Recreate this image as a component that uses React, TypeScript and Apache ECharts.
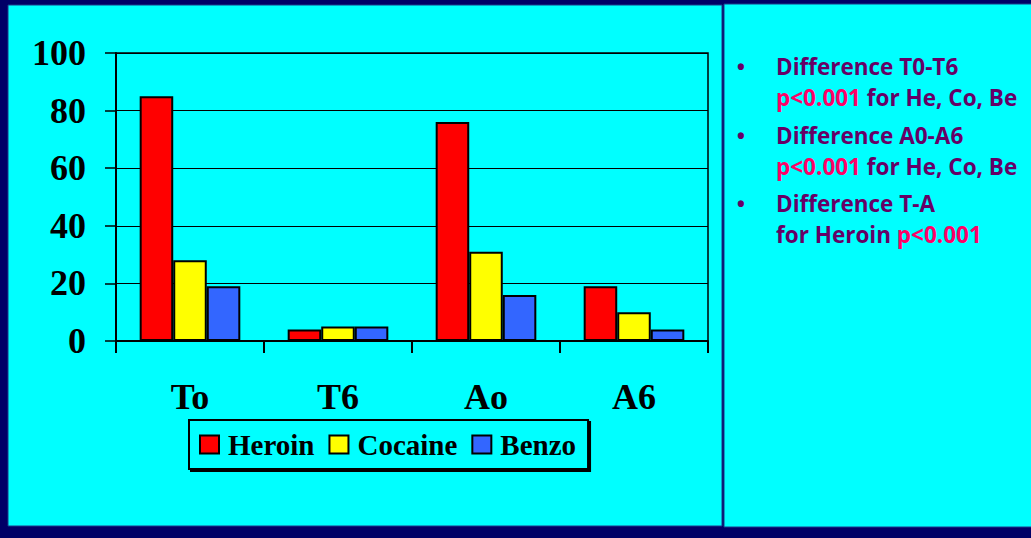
import React, { useEffect, useRef } from "react";
import * as echarts from "echarts";

const categories = ["To", "T6", "Ao", "A6"];
const heroin = [85, 4, 76, 19];
const cocaine = [28, 5, 31, 10];
const benzo = [19, 5, 16, 4];
const seriesNames = ["Heroin", "Cocaine", "Benzo"];
const seriesColors = ["#FF0000", "#FFFF00", "#3366FF"];
const notes: { bullet: boolean; parts: { t: string; pink?: boolean }[] }[] = [
  { bullet: true, parts: [{ t: "Difference T0-T6" }] },
  { bullet: false, parts: [{ t: "p<0.001", pink: true }, { t: " for He, Co, Be" }] },
  { bullet: true, parts: [{ t: "Difference A0-A6" }] },
  { bullet: false, parts: [{ t: "p<0.001", pink: true }, { t: " for He, Co, Be" }] },
  { bullet: true, parts: [{ t: "Difference T-A" }] },
  { bullet: false, parts: [{ t: "for Heroin " }, { t: "p<0.001", pink: true }] },
];
const noteY = [66, 97, 135, 166, 203, 234];

const serif = "'Liberation Serif', 'Times New Roman', serif";
const sans = "'Open Sans', Lato, sans-serif";
const noteFont = `bold 22.5px ${sans}`;

export default function App() {
  const ref = useRef<HTMLDivElement>(null);
  useEffect(() => {
    document.body.style.margin = "0";
    const chart = echarts.init(ref.current!, undefined, { renderer: "svg" });
    const graphics: any[] = [
      { type: "rect", z: -10, shape: { x: 8, y: 5, width: 714, height: 521 }, style: { fill: "#00FFFF", stroke: "#1a3a8a", lineWidth: 1 } },
      { type: "rect", z: -10, shape: { x: 724, y: 4, width: 310, height: 523 }, style: { fill: "#00FFFF", stroke: "#1a3a8a", lineWidth: 1 } },
    ];
    notes.forEach((n, i) => {
      if (n.bullet) {
        graphics.push({
          type: "text", x: 741, y: noteY[i], z: 10,
          style: { text: "•", fill: "#660066", font: `bold 22px ${sans}`, textAlign: "center", textVerticalAlign: "middle" },
        });
      }
      const txt = n.parts.map((p) => (p.pink ? `{p|${p.t}}` : `{d|${p.t}}`)).join("");
      graphics.push({
        type: "text", x: 776, y: noteY[i], z: 10,
        style: {
          text: txt, textVerticalAlign: "middle", textAlign: "left",
          font: noteFont, fill: "#660066",
          rich: {
            d: { fill: "#660066", font: noteFont },
            p: { fill: "#FF0066", font: noteFont },
          },
        },
      });
    });
    const data = [heroin, cocaine, benzo];
    chart.setOption({
      animation: false,
      backgroundColor: "#000066",
      graphic: graphics,
      grid: { left: 116, right: 323, top: 53, bottom: 197, show: true, borderColor: "#000", borderWidth: 1.5, backgroundColor: "transparent", containLabel: false },
      legend: {
        left: 189, top: 420, orient: "horizontal",
        icon: "rect",
        itemWidth: 19, itemHeight: 18, itemGap: 14,
        padding: [10, 12, 10, 10],
        backgroundColor: "#00FFFF", borderColor: "#000", borderWidth: 2,
        shadowColor: "#000", shadowOffsetX: 2, shadowOffsetY: 2, shadowBlur: 1,
        textStyle: { fontFamily: serif, fontWeight: "bold", fontSize: 29, color: "#000", padding: [0, 0, 0, 4] },
        data: seriesNames,
      },
      xAxis: {
        type: "category", data: categories,
        axisLine: { lineStyle: { color: "#000", width: 2 } },
        axisTick: { show: true, length: 12, lineStyle: { color: "#000", width: 2 } },
        axisLabel: { fontFamily: serif, fontWeight: "bold", fontSize: 36, color: "#000", margin: 38 },
      },
      yAxis: {
        type: "value", min: 0, max: 100, interval: 20,
        axisLine: { show: true, lineStyle: { color: "#000", width: 2 } },
        axisTick: { show: true, length: 11, lineStyle: { color: "#000", width: 1.5 } },
        splitLine: { lineStyle: { color: "#000", width: 1 } },
        axisLabel: { fontFamily: serif, fontWeight: "bold", fontSize: 36, color: "#000", margin: 30 },
      },
      series: seriesNames.map((name, i) => ({
        name, type: "bar", data: data[i],
        barGap: "0%", barCategoryGap: "32%",
        itemStyle: { color: seriesColors[i], borderColor: "#000", borderWidth: 2 },
      })),
    });
    return () => chart.dispose();
  }, []);
  return <div ref={ref} style={{ width: 1031, height: 538 }} />;
}
